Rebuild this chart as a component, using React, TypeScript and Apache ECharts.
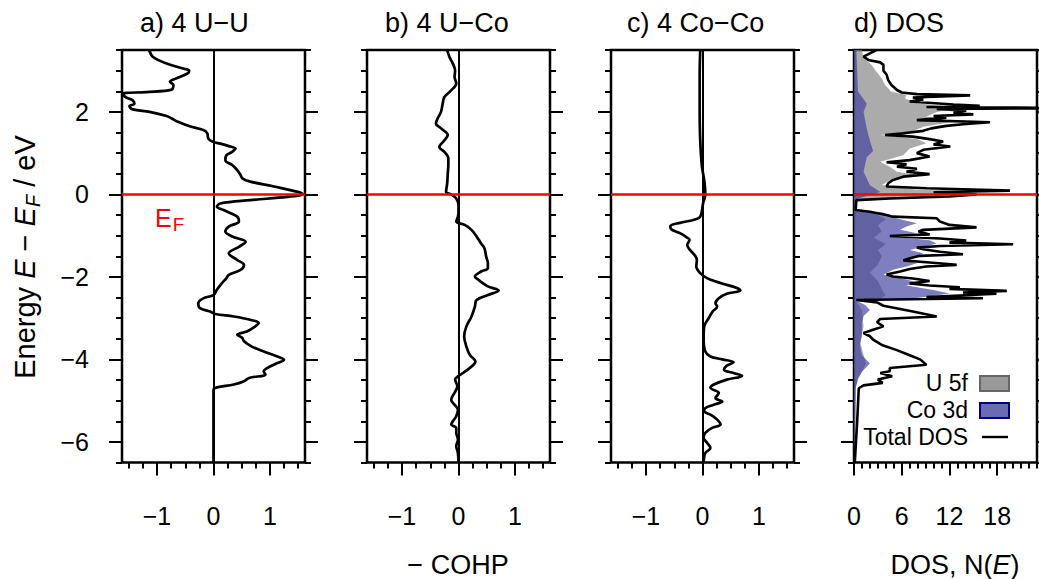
import React, { useEffect, useRef } from 'react';
import * as echarts from 'echarts';

// ---------- axis ranges & ticks ----------
const E_MIN = -6.5;
const E_MAX = 3.5;
const COHP_MIN = -1.62;
const COHP_MAX = 1.62;
const DOS_MIN = 0;
const DOS_MAX = 23;

const yMajorTicks = [-6, -4, -2, 0, 2];
const cohpMajorTicks = [-1, 0, 1];
const cohpMinorTicks = [-1.5, -1.25, -1, -0.75, -0.5, -0.25, 0, 0.25, 0.5, 0.75, 1, 1.25, 1.5];
const dosMajorTicks = [0, 6, 12, 18];
const dosMinorTicks = [0, 1, 2, 3, 4, 5, 6, 7, 8, 9, 10, 11, 12, 13, 14, 15, 16, 17, 18, 19, 20, 21, 22, 23];

const panelTitles = ['a) 4 U\u2212U', 'b) 4 U\u2212Co', 'c) 4 Co\u2212Co', 'd) DOS'];

// ---------- a) U-U COHP (energy, -COHP) ----------
const uuE = [3.5, 3.33, 3.17, 3.05, 3.0, 2.93, 2.8, 2.73, 2.65, 2.54, 2.48, 2.44, 2.35, 2.28, 2.2, 2.14, 2.06, 2.0, 1.9, 1.84, 1.76, 1.65, 1.56, 1.48, 1.35, 1.27, 1.23, 1.17, 1.11, 1.03, 0.95, 0.83, 0.71, 0.59, 0.47, 0.39, 0.31, 0.19, 0.06, 0, -0.06, -0.14, -0.22, -0.3, -0.38, -0.54, -0.66, -0.78, -0.9, -1.02, -1.15, -1.27, -1.43, -1.59, -1.71, -1.83, -1.95, -2.03, -2.15, -2.31, -2.44, -2.52, -2.64, -2.76, -2.84, -2.9, -2.96, -3.04, -3.12, -3.2, -3.32, -3.4, -3.48, -3.56, -3.69, -3.81, -3.93, -4.01, -4.09, -4.21, -4.29, -4.37, -4.45, -4.53, -4.61, -4.69, -4.75, -6.5];
const uuV = [-1.14, -1.07, -0.83, -0.54, -0.43, -0.46, -0.68, -0.77, -0.71, -0.74, -1.19, -1.61, -1.55, -1.43, -1.4, -1.49, -1.43, -1.13, -0.83, -0.74, -0.63, -0.42, -0.18, -0.11, -0.09, 0, 0.12, 0.27, 0.39, 0.33, 0.23, 0.21, 0.33, 0.42, 0.48, 0.51, 0.65, 1.07, 1.49, 1.58, 1.31, 0.65, 0.12, 0.06, 0.18, 0.42, 0.45, 0.27, 0.21, 0.33, 0.57, 0.45, 0.27, 0.42, 0.54, 0.48, 0.27, 0.23, 0.15, 0.06, 0, -0.18, -0.27, -0.24, -0.06, 0.03, 0.36, 0.65, 0.8, 0.74, 0.6, 0.42, 0.51, 0.54, 0.68, 0.89, 1.13, 1.25, 1.13, 0.95, 0.89, 0.92, 0.63, 0.54, 0.36, 0.03, 0, 0];

// ---------- b) U-Co COHP ----------
const ucoE = [3.5, 3.33, 3.17, 3.0, 2.85, 2.69, 2.52, 2.36, 2.2, 2.0, 1.84, 1.72, 1.6, 1.44, 1.31, 1.15, 1.03, 0.87, 0.71, 0.51, 0.27, 0.06, 0, -0.1, -0.26, -0.42, -0.54, -0.66, -0.74, -0.86, -1.02, -1.19, -1.31, -1.51, -1.67, -1.79, -1.87, -1.99, -2.07, -2.23, -2.33, -2.44, -2.56, -2.72, -2.96, -3.2, -3.44, -3.69, -3.89, -4.05, -4.21, -4.33, -4.41, -4.49, -4.65, -4.81, -4.98, -5.1, -5.22, -5.38, -5.5, -5.58, -5.66, -5.78, -5.94, -6.1, -6.27, -6.5];
const ucoV = [-0.2, -0.16, -0.1, -0.06, -0.07, -0.04, -0.13, -0.25, -0.28, -0.31, -0.37, -0.4, -0.31, -0.19, -0.25, -0.34, -0.25, -0.18, -0.18, -0.19, -0.2, -0.22, -0.13, -0.04, 0, 0, -0.01, -0.04, 0.11, 0.23, 0.32, 0.4, 0.46, 0.49, 0.52, 0.52, 0.4, 0.29, 0.35, 0.52, 0.71, 0.52, 0.32, 0.29, 0.23, 0.14, 0.1, 0.14, 0.2, 0.3, 0.2, 0.08, -0.01, -0.06, -0.02, -0.07, -0.13, -0.07, -0.01, -0.04, -0.1, -0.13, -0.04, -0.04, -0.01, -0.04, -0.01, 0];

// ---------- c) Co-Co COHP ----------
const cocoE = [3.5, 2.9, 2.1, 1.3, 0.67, 0.35, 0, -0.22, -0.54, -0.62, -0.69, -0.77, -0.85, -0.94, -1.04, -1.1, -1.23, -1.35, -1.49, -1.59, -1.75, -1.91, -2.03, -2.15, -2.27, -2.33, -2.41, -2.52, -2.64, -2.72, -2.84, -3.0, -3.2, -3.52, -3.81, -3.93, -4.0, -4.07, -4.15, -4.25, -4.33, -4.4, -4.49, -4.61, -4.69, -4.81, -4.94, -5.02, -5.1, -5.18, -5.26, -5.34, -5.46, -5.58, -5.66, -5.78, -5.9, -6.02, -6.15, -6.27, -6.5];
const cocoV = [-0.04, -0.05, -0.05, -0.04, -0.01, 0.03, 0.05, 0.01, -0.04, -0.16, -0.4, -0.57, -0.55, -0.4, -0.28, -0.23, -0.27, -0.22, -0.13, -0.1, -0.11, -0.04, 0.08, 0.32, 0.61, 0.67, 0.43, 0.29, 0.23, 0.26, 0.18, 0.11, 0.03, 0.02, 0.05, 0.14, 0.35, 0.55, 0.43, 0.38, 0.55, 0.7, 0.43, 0.2, 0.14, 0.29, 0.23, 0.35, 0.2, 0.05, 0.03, 0.14, 0.26, 0.32, 0.17, 0.05, 0.02, 0.08, 0.14, 0.05, 0.02];

// ---------- d) DOS: total ----------
const totE = [3.5, 3.42, 3.34, 3.26, 3.2, 3.14, 3.0, 2.9, 2.77, 2.65, 2.53, 2.47, 2.43, 2.4, 2.35, 2.3, 2.25, 2.18, 2.15, 2.12, 2.09, 2.07, 2.03, 1.98, 1.94, 1.9, 1.86, 1.8, 1.75, 1.7, 1.66, 1.6, 1.54, 1.48, 1.44, 1.4, 1.34, 1.28, 1.21, 1.16, 1.08, 1.0, 0.92, 0.83, 0.78, 0.73, 0.67, 0.62, 0.55, 0.49, 0.43, 0.35, 0.27, 0.19, 0.15, 0.09, 0.05, 0, -0.05, -0.1, -0.14, -0.38, -0.42, -0.5, -0.54, -0.58, -0.66, -0.74, -0.8, -0.86, -0.9, -0.97, -1.01, -1.07, -1.12, -1.17, -1.21, -1.25, -1.29, -1.33, -1.39, -1.45, -1.49, -1.55, -1.6, -1.65, -1.71, -1.75, -1.81, -1.87, -1.94, -1.99, -2.04, -2.1, -2.16, -2.21, -2.25, -2.29, -2.34, -2.38, -2.41, -2.45, -2.49, -2.52, -2.56, -2.62, -2.7, -2.84, -2.96, -3.02, -3.1, -3.2, -3.28, -3.36, -3.44, -3.52, -3.65, -3.77, -3.9, -4.0, -4.13, -4.21, -4.29, -4.33, -4.41, -4.49, -4.57, -4.63, -4.7, -5.5, -6.5];
const totV = [2.8, 2.0, 1.2, 1.8, 3.3, 3.7, 3.7, 4.1, 4.3, 4.7, 5.4, 6.0, 7.9, 14.6, 7.4, 8.7, 7.0, 12.5, 15.8, 9.1, 30, 10.4, 14.1, 12.5, 15.0, 10.0, 11.6, 7.9, 17.1, 13.7, 11.6, 9.7, 8.7, 6.2, 3.9, 7.4, 9.5, 11.2, 10.0, 12.1, 8.7, 7.9, 9.5, 7.0, 4.1, 6.6, 5.4, 7.9, 6.6, 9.5, 6.2, 4.9, 4.3, 4.1, 9.1, 19.6, 10.0, 15.4, 12.0, 4.5, 0.3, 0.2, 2.0, 4.1, 4.9, 10.4, 10.8, 12.0, 15.4, 8.7, 8.1, 9.5, 4.5, 10.8, 14.1, 12.0, 20.0, 10.8, 7.9, 8.7, 10.8, 13.7, 8.3, 7.0, 6.2, 9.5, 12.9, 9.1, 7.0, 5.8, 4.1, 4.9, 7.4, 9.5, 7.0, 9.5, 13.3, 12.0, 19.2, 13.7, 17.9, 13.3, 9.1, 16.2, 0.3, 2.9, 3.7, 7.4, 10.4, 3.3, 2.9, 3.7, 2.4, 1.2, 2.0, 2.4, 3.5, 5.3, 7.0, 8.3, 9.1, 4.5, 4.5, 3.3, 4.8, 3.0, 3.6, 1.2, 0.6, 0.4, 0.1];

// ---------- d) DOS: U 5f ----------
const u5fE = [3.5, 3.3, 3.14, 2.98, 2.81, 2.65, 2.49, 2.41, 2.33, 2.21, 2.1, 2.0, 1.89, 1.75, 1.64, 1.5, 1.44, 1.34, 1.24, 1.11, 0.95, 0.79, 0.67, 0.55, 0.47, 0.39, 0.23, 0.11, 0.07, 0, -0.05, -0.11, -0.14, -0.4, -0.45, -0.6, -0.75, -0.9, -1.05, -1.2, -1.35, -1.5, -1.7, -1.9, -2.1, -2.3, -2.45, -2.55, -2.57, -2.8, -3.2, -3.6, -4.1, -4.5, -4.7, -6.5];
const u5fV = [1.0, 1.2, 2.2, 2.8, 3.5, 3.9, 4.7, 6.6, 6.4, 7.9, 13.0, 10.4, 9.1, 12.0, 8.7, 7.0, 3.3, 7.9, 9.1, 7.0, 6.2, 3.3, 4.5, 5.4, 7.9, 4.9, 3.5, 7.9, 16.0, 12.0, 10.0, 2.8, 0.1, 0.1, 2.5, 4.0, 3.0, 3.5, 2.5, 4.0, 3.0, 3.5, 3.0, 2.0, 3.0, 3.5, 4.0, 3.0, 0.2, 1.0, 1.2, 0.8, 1.5, 0.5, 0.2, 0.05];

// ---------- d) DOS: Co 3d ----------
const co3dE = [3.5, 2.5, 2.2, 2.0, 1.8, 1.6, 1.3, 1.05, 0.9, 0.55, 0.22, 0.06, 0, -0.1, -0.14, -0.4, -0.44, -0.54, -0.62, -0.7, -0.78, -0.86, -0.94, -1.02, -1.11, -1.19, -1.27, -1.35, -1.43, -1.51, -1.59, -1.67, -1.75, -1.83, -1.95, -2.03, -2.13, -2.21, -2.32, -2.4, -2.48, -2.54, -2.57, -2.68, -2.8, -2.95, -3.1, -3.4, -3.65, -3.9, -4.1, -4.3, -4.45, -4.7, -6.5];
const co3dV = [0.3, 0.5, 1.6, 1.2, 1.4, 1.6, 2.0, 2.4, 1.6, 1.2, 2.0, 3.3, 2.2, 0.5, 0.1, 0.1, 3.7, 4.5, 6.2, 7.9, 6.6, 5.8, 7.9, 4.9, 9.5, 10.4, 8.7, 7.0, 8.7, 7.9, 6.2, 7.9, 6.6, 4.9, 3.7, 5.8, 7.9, 6.6, 10.0, 12.0, 9.1, 6.6, 0.3, 1.4, 2.0, 1.2, 1.0, 1.0, 0.75, 1.0, 2.0, 1.0, 0.5, 0.2, 0.05];

const legendLabels = ['U 5f', 'Co 3d', 'Total DOS'];

const FONT = '"Liberation Sans", Arial, Helvetica, sans-serif';
const fmt = (v: number) => (v < 0 ? '\u2212' + Math.abs(v) : String(v));
const pairs = (vals: number[], es: number[]) => vals.map((v, i) => [v, es[i]]);

const GRID_TOP = 50;
const GRID_H = 412.5;
const GRID_W = 183;
const gridLefts = [122, 367, 611, 854];
const TICK_FONT = 25;

function areaSeries(name: string, vals: number[], es: number[], fill: string, idx: number) {
  return {
    type: 'custom',
    name,
    xAxisIndex: idx * 2,
    yAxisIndex: idx * 4,
    z: 2,
    clip: true,
    data: pairs(vals, es),
    renderItem: (params: any, api: any) => {
      if (params.dataIndex !== 0) return null;
      const pts: number[][] = es.map((e, i) => api.coord([vals[i], e]));
      pts.push(api.coord([0, es[es.length - 1]]));
      pts.push(api.coord([0, es[0]]));
      return { type: 'polygon', shape: { points: pts }, style: { fill, stroke: 'none' } };
    },
  };
}

export default function App() {
  const ref = useRef<HTMLDivElement>(null);
  useEffect(() => {
    if (!ref.current) return;
    const chart = echarts.init(ref.current, undefined, { renderer: 'svg' });

    const grid = gridLefts.map((l) => ({
      left: l, top: GRID_TOP, width: GRID_W, height: GRID_H,
      show: true, borderColor: '#000', borderWidth: 2.5, backgroundColor: 'transparent',
    }));

    const tickStyle = { color: '#000', width: 2 };
    const noLine = { show: false, onZero: false };
    const xAxis: any[] = [];
    const yAxis: any[] = [];
    for (let g = 0; g < 4; g++) {
      const isDos = g === 3;
      const min = isDos ? DOS_MIN : COHP_MIN;
      const max = isDos ? DOS_MAX : COHP_MAX;
      const major = isDos ? dosMajorTicks : cohpMajorTicks;
      const minor = isDos ? dosMinorTicks : cohpMinorTicks;
      xAxis.push({
        type: 'value', gridIndex: g, min, max, position: 'bottom',
        axisLine: noLine, splitLine: { show: false },
        axisTick: { show: true, customValues: major, length: 13, lineStyle: tickStyle },
        axisLabel: { show: true, customValues: major, formatter: fmt, fontSize: TICK_FONT, color: '#000', fontFamily: FONT, margin: 41 },
      });
      xAxis.push({
        type: 'value', gridIndex: g, min, max, position: 'bottom',
        axisLine: noLine, splitLine: { show: false },
        axisLabel: { show: false },
        axisTick: { show: true, customValues: minor, length: 6, lineStyle: tickStyle },
      });

      const baseY = { type: 'value', gridIndex: g, min: E_MIN, max: E_MAX, axisLine: noLine, splitLine: { show: false } };
      yAxis.push({ ...baseY, position: 'left', interval: 0.5, axisLabel: { show: false }, axisTick: { show: true, length: 6, lineStyle: tickStyle } });
      yAxis.push({
        ...baseY, position: 'left',
        axisTick: { show: true, customValues: yMajorTicks, length: 13, lineStyle: tickStyle },
        axisLabel: { show: g === 0, customValues: yMajorTicks, formatter: fmt, fontSize: TICK_FONT, color: '#000', fontFamily: FONT, margin: 33 },
      });
      yAxis.push({ ...baseY, position: 'right', interval: 0.5, axisLabel: { show: false }, axisTick: { show: true, length: 6, lineStyle: tickStyle } });
      yAxis.push({ ...baseY, position: 'right', axisLabel: { show: false }, axisTick: { show: true, customValues: yMajorTicks, length: 13, lineStyle: tickStyle } });
    }

    const refLines = (withZero: boolean) => ({
      silent: true, symbol: 'none', label: { show: false }, animation: false,
      data: [
        ...(withZero ? [{ xAxis: 0, lineStyle: { color: '#000', width: 2, type: 'solid' } }] : []),
        { yAxis: 0, lineStyle: { color: '#ff0000', width: 2.6, type: 'solid' } },
      ],
    });

    const cohpLine = (name: string, vals: number[], es: number[], g: number) => ({
      type: 'line', name, xAxisIndex: g * 2, yAxisIndex: g * 4, z: 3,
      data: pairs(vals, es), showSymbol: false, smooth: 0.35,
      lineStyle: { color: '#000', width: 2.7 },
      markLine: refLines(true),
    });

    const series: any[] = [
      cohpLine('U-U', uuV, uuE, 0),
      cohpLine('U-Co', ucoV, ucoE, 1),
      cohpLine('Co-Co', cocoV, cocoE, 2),
      areaSeries('U 5f', u5fV, u5fE, 'rgba(135,135,135,0.7)', 3),
      areaSeries('Co 3d', co3dV, co3dE, 'rgba(60,60,160,0.66)', 3),
      {
        type: 'line', name: 'Total DOS', xAxisIndex: 6, yAxisIndex: 12, z: 3,
        data: pairs(totV, totE), showSymbol: false, clip: true,
        lineStyle: { color: '#000', width: 2.6 },
        markLine: refLines(false),
      },
    ];

    const titleX = [140, 385, 627, 854];
    const graphic: any[] = panelTitles.map((t, i) => ({
      type: 'text', x: titleX[i], y: 23,
      style: { text: t, font: `27px ${FONT}`, fill: '#000', verticalAlign: 'middle' },
    }));
    graphic.push({
      type: 'text', x: 25, y: 257, rotation: Math.PI / 2,
      style: {
        text: '{n|Energy }{i|E}{n| \u2212 }{i|E}{s|F}{n| / eV}',
        align: 'center', verticalAlign: 'middle',
        rich: {
          n: { fontSize: 29, fontFamily: FONT, fill: '#000', lineHeight: 33 },
          i: { fontSize: 29, fontFamily: FONT, fontStyle: 'italic', fill: '#000', lineHeight: 33 },
          s: { fontSize: 20, fontFamily: FONT, fontStyle: 'italic', fill: '#000', padding: [15, 0, 0, 0], lineHeight: 20 },
        },
      },
    });
    graphic.push({
      type: 'text', x: 155, y: 218,
      style: {
        text: '{e|E}{f|F}', verticalAlign: 'middle',
        rich: {
          e: { fontSize: 25, fontFamily: FONT, fill: '#ff0000', lineHeight: 28 },
          f: { fontSize: 19, fontFamily: FONT, fill: '#ff0000', padding: [13, 0, 0, 1], lineHeight: 19 },
        },
      },
    });
    graphic.push({
      type: 'text', x: 458, y: 565,
      style: { text: '\u2212 COHP', font: `27px ${FONT}`, fill: '#000', align: 'center', verticalAlign: 'middle' },
    });
    graphic.push({
      type: 'text', x: 955, y: 565,
      style: {
        text: '{n|DOS, N(}{i|E}{n|)}', align: 'center', verticalAlign: 'middle',
        rich: {
          n: { fontSize: 27, fontFamily: FONT, fill: '#000' },
          i: { fontSize: 27, fontFamily: FONT, fontStyle: 'italic', fill: '#000' },
        },
      },
    });
    // legend
    const legY = [383, 410, 437];
    legendLabels.forEach((t, i) => {
      graphic.push({
        type: 'text', x: 968, y: legY[i],
        style: { text: t, font: `23px ${FONT}`, fill: '#000', align: 'right', verticalAlign: 'middle' },
      });
    });
    graphic.push({ type: 'rect', shape: { x: 980, y: 376, width: 29, height: 15 }, style: { fill: '#999999', stroke: '#666666', lineWidth: 2 } });
    graphic.push({ type: 'rect', shape: { x: 980, y: 403, width: 29, height: 15 }, style: { fill: '#6b6bb3', stroke: '#000080', lineWidth: 2 } });
    graphic.push({ type: 'line', shape: { x1: 982, y1: 437, x2: 1008, y2: 437 }, style: { stroke: '#000', lineWidth: 2.4 } });

    chart.setOption({
      animation: false,
      textStyle: { fontFamily: FONT },
      grid, xAxis, yAxis, series, graphic,
    });
    return () => chart.dispose();
  }, []);
  return <div ref={ref} style={{ position: 'fixed', left: 0, top: 0, width: 1039, height: 579, background: '#fff' }} />;
}
